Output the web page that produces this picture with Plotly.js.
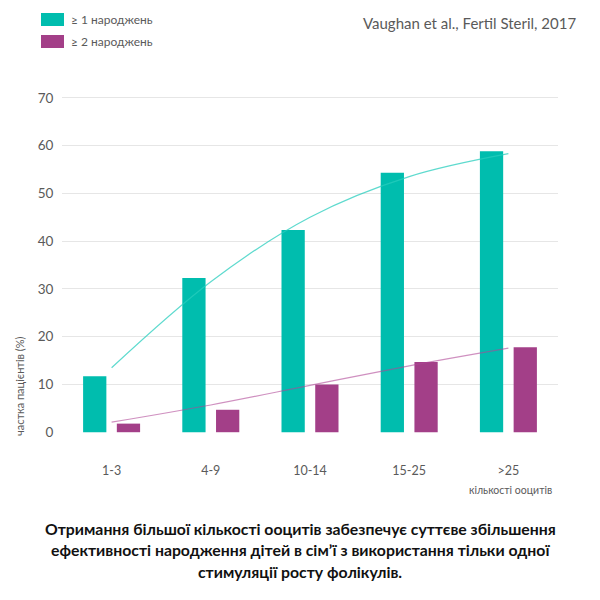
<!DOCTYPE html>
<html>
<head>
<meta charset="utf-8">
<script src="https://cdn.plot.ly/plotly-3.0.1.min.js"></script>
<style>
  html, body { margin: 0; padding: 0; background: #fff; }
  #chart { width: 600px; height: 600px; }
</style>
</head>
<body>
<div id="chart"></div>
<script>
// ── Data ──────────────────────────────────────────────────────────────────
const categories  = ['1-3', '4-9', '10-14', '15-25', '>25'];
const seriesNames = ['≥ 1 народжень', '≥ 2 народжень'];
const atLeastOne  = [11.7, 32.3, 42.3, 54.3, 58.8];
const atLeastTwo  = [1.8, 4.7, 10.0, 14.7, 17.8];
const trendOne    = [13.5, 31.5, 45.0, 53.5, 58.3];
const trendTwo    = [2.1, 5.7, 9.8, 13.9, 17.6];
const yTicks      = [0, 10, 20, 30, 40, 50, 60, 70];

const yTitle   = 'частка пацієнтів (%)';
const xTitle   = 'кількості ооцитів';
const source   = 'Vaughan et al., Fertil Steril, 2017';
const caption  = [
  'Отримання більшої кількості ооцитів забезпечує суттєве збільшення',
  'ефективності народження дітей в сім\u2019ї з використання тільки одної',
  'стимуляції росту фолікулів.'
];

// ── Style ─────────────────────────────────────────────────────────────────
const TEAL    = '#00BDAE';
const PLUM    = '#A33F88';
const GREY    = '#5A5A5A';
const FONT    = 'Lato, "Open Sans", sans-serif';
const W = 600, H = 600;
const M = { l: 62, r: 42, t: 93, b: 163 };
const plotW = W - M.l - M.r;
const plotH = H - M.t - M.b;

// pixel → paper helpers (for legend swatches / free text)
const px = x => (x - M.l) / plotW;
const py = y => (H - M.b - y) / plotH;

const traces = [
  {
    type: 'bar', x: categories, y: atLeastOne, name: seriesNames[0],
    marker: { color: TEAL }, hoverinfo: 'y'
  },
  {
    type: 'bar', x: categories, y: atLeastTwo, name: seriesNames[1],
    marker: { color: PLUM }, hoverinfo: 'y'
  },
  {
    type: 'scatter', mode: 'lines', x: categories, y: trendOne,
    line: { color: 'rgba(40,205,190,0.75)', width: 1.2, shape: 'spline' },
    hoverinfo: 'skip'
  },
  {
    type: 'scatter', mode: 'lines', x: categories, y: trendTwo,
    line: { color: 'rgba(175,70,150,0.6)', width: 1.2, shape: 'spline' },
    hoverinfo: 'skip'
  }
];

// legend drawn by hand so the swatches keep the wide shape of the original
const shapes = seriesNames.map((_, i) => ({
  type: 'rect', xref: 'paper', yref: 'paper',
  x0: px(41), x1: px(64), y0: py(26 + i * 22), y1: py(13 + i * 22),
  fillcolor: i === 0 ? TEAL : PLUM, line: { width: 0 }
}));

const annotations = [
  ...seriesNames.map((name, i) => ({
    text: name, xref: 'paper', yref: 'paper',
    x: px(69), y: py(19.5 + i * 22), xanchor: 'left', yanchor: 'middle',
    showarrow: false, font: { family: FONT, size: 12, color: GREY }
  })),
  {
    text: source, xref: 'paper', yref: 'paper',
    x: px(578), y: py(23), xanchor: 'right', yanchor: 'middle',
    showarrow: false, font: { family: FONT, size: 15, color: GREY }
  },
  {
    text: yTitle, xref: 'paper', yref: 'paper', textangle: -90,
    x: px(19), y: py(386), xanchor: 'center', yanchor: 'middle',
    showarrow: false, font: { family: FONT, size: 11, color: GREY }
  },
  {
    text: xTitle, xref: 'paper', yref: 'paper',
    x: px(510), y: py(490), xanchor: 'center', yanchor: 'middle',
    showarrow: false, font: { family: FONT, size: 10.5, color: GREY }
  },
  ...caption.map((line, i) => ({
    text: '<b>' + line + '</b>', xref: 'paper', yref: 'paper',
    x: px(300), y: py(528 + i * 21.5), xanchor: 'center', yanchor: 'middle',
    showarrow: false, font: { family: FONT, size: 15.8, color: '#111' }
  }))
];

const layout = {
  width: W, height: H,
  margin: M,
  paper_bgcolor: '#fff', plot_bgcolor: '#fff',
  font: { family: FONT, size: 12, color: GREY },
  showlegend: false,
  barmode: 'group',
  bargap: 0.32,
  bargroupgap: 0.31,
  xaxis: {
    type: 'category',
    showgrid: false, zeroline: false, showline: false,
    ticks: 'outside', ticklen: 22, tickcolor: 'rgba(0,0,0,0)',
    tickfont: { family: FONT, size: 12.5, color: GREY },
    automargin: false
  },
  yaxis: {
    range: [-1, 71],
    tickvals: yTicks,
    showgrid: true, gridcolor: '#E6E6E6', gridwidth: 1,
    zeroline: true, zerolinecolor: 'rgba(0,0,0,0)',
    showline: false,
    ticks: 'outside', ticklen: 5, tickcolor: 'rgba(0,0,0,0)',
    tickfont: { family: FONT, size: 13.5, color: GREY },
    automargin: false
  },
  shapes: shapes,
  annotations: annotations
};

Plotly.newPlot('chart', traces, layout, { displayModeBar: false, staticPlot: true });
</script>
</body>
</html>
